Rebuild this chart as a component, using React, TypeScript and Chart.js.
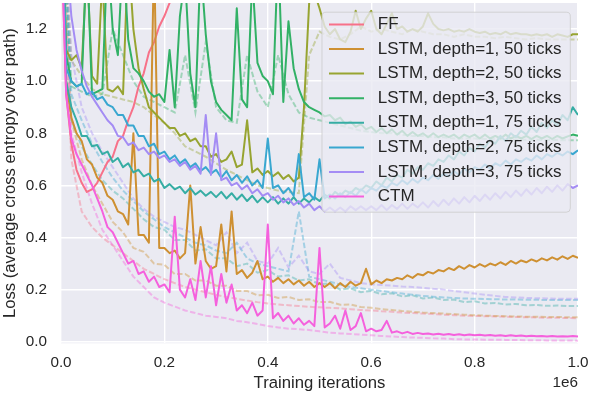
import React, { useEffect, useRef } from "react";
import { Chart, registerables } from "chart.js";

Chart.register(...registerables);

const FONT = "'Liberation Sans', Arial, Helvetica, sans-serif";
const TEXT = "#262626";

const SERIES = [
  "FF",
  "LSTM, depth=1, 50 ticks",
  "LSTM, depth=2, 50 ticks",
  "LSTM, depth=3, 50 ticks",
  "LSTM, depth=1, 75 ticks",
  "LSTM, depth=2, 75 ticks",
  "LSTM, depth=3, 75 ticks",
  "CTM",
];
const COLORS = ["#f77189", "#ce9032", "#97a431", "#32b166", "#36ada4", "#39a7d0", "#a48cf4", "#f561dd"];
const X_TICKS = [0, 200000, 400000, 600000, 800000, 1000000];
const Y_TICKS = [0, 0.2, 0.4, 0.6, 0.8, 1.0, 1.2];
const SOLID_STEP = 10000; // iterations between samples of the solid (test) curves
const DASHED_STEP = 20000; // iterations between samples of the dashed (train) curves

// ---- solid curves (one value every 10k iterations) ----
const FF_SOLID = [
  1.6, 0.95, 0.76, 0.66, 0.61, 0.575, 0.585, 0.61, 0.65, 0.69,
  0.71, 0.77, 0.79, 0.85, 0.9, 0.98, 1.03, 1.11, 1.15, 1.21,
  1.25, 1.3, 1.33, 1.42,
];
const L1_50_SOLID = [
  1.7, 1.0, 0.86, 0.8, 0.77, 0.7, 0.68, 0.63, 0.61, 0.56,
  0.545, 0.5, 0.49, 0.45, 0.8, 0.41, 0.41, 0.38, 1.5, 0.36,
  0.36, 0.34, 0.35, 0.32, 0.34, 0.6, 0.3, 0.44, 0.31, 0.28,
  0.29, 0.45, 0.27, 0.5, 0.26, 0.275, 0.245, 0.265, 0.31, 0.24,
  0.25, 0.23, 0.245, 0.225, 0.24, 0.22, 0.235, 0.215, 0.23, 0.21,
  0.225, 0.21, 0.225, 0.205, 0.225, 0.21, 0.23, 0.215, 0.225, 0.28,
  0.22, 0.235, 0.225, 0.24, 0.235, 0.245, 0.24, 0.255, 0.245, 0.26,
  0.255, 0.268, 0.262, 0.275, 0.27, 0.283, 0.275, 0.29, 0.28, 0.294,
  0.285, 0.298, 0.288, 0.3, 0.293, 0.305, 0.295, 0.31, 0.3, 0.312,
  0.305, 0.316, 0.308, 0.32, 0.312, 0.324, 0.315, 0.328, 0.318, 0.33,
  0.322,
];
const L2_50_SOLID = [
  1.8, 1.12, 1.08, 1.1, 1.05, 1.45, 1.02, 0.99, 1.4, 0.97,
  0.96, 0.98, 0.95, 1.5, 1.2, 1.05, 0.97, 0.9, 0.88, 0.86,
  0.84, 0.82, 0.82, 0.79, 0.8, 0.77, 0.78, 0.75, 0.75, 0.71,
  0.72, 0.69, 0.7, 0.73, 0.67, 0.68, 0.85, 0.65, 0.665, 0.64,
  0.655, 0.635, 0.65, 0.625, 0.64, 0.615, 0.63, 0.9, 1.3, 1.34,
  1.28, 1.21, 1.18, 1.2, 1.16, 1.15, 1.19, 1.27, 1.2, 1.24,
  1.27, 1.2, 1.18, 1.22, 1.26, 1.2, 1.21, 1.19, 1.2, 1.19,
  1.21, 1.26, 1.22, 1.2, 1.195, 1.2, 1.19, 1.195, 1.19, 1.2,
  1.19, 1.185, 1.19, 1.18, 1.185, 1.18, 1.19, 1.18, 1.185, 1.18,
  1.18, 1.175, 1.18, 1.175, 1.18, 1.17, 1.18, 1.175, 1.17, 1.18,
  1.18,
];
const L3_50_SOLID = [
  1.8, 1.1, 1.0, 0.98, 0.99, 1.5, 0.95, 0.96, 0.97, 1.5,
  1.2, 1.1, 1.5, 1.16, 1.05, 1.03, 1.0, 0.96, 0.94, 0.95,
  0.92, 1.12, 0.9, 1.25, 1.4, 1.03, 0.9, 1.45, 1.18, 1.0,
  0.92, 0.89, 0.87, 0.85, 1.28, 0.93, 0.9, 1.4, 1.07, 1.02,
  1.0, 0.95, 1.5, 0.92, 1.23, 1.05, 0.97, 0.92, 0.9, 0.89,
  0.88, 0.865, 0.87, 0.85, 0.86, 0.835, 0.845, 0.825, 0.835, 0.815,
  0.825, 0.805, 0.82, 0.8, 0.815, 0.795, 0.81, 0.79, 0.805, 0.79,
  0.8, 0.785, 0.8, 0.785, 0.795, 0.785, 0.795, 0.78, 0.795, 0.785,
  0.795, 0.78, 0.795, 0.78, 0.79, 0.78, 0.795, 0.78, 0.79, 0.78,
  0.79, 0.778, 0.79, 0.78, 0.79, 0.778, 0.79, 0.78, 0.788, 0.795,
  0.79,
];
const L1_75_SOLID = [
  1.8, 1.0, 0.9, 0.85, 0.79, 0.79, 0.75, 0.755, 0.72, 0.73,
  0.69, 0.705, 0.67, 0.685, 0.65, 0.66, 0.635, 0.645, 0.615, 0.625,
  0.59, 0.605, 0.585, 0.595, 0.57, 0.59, 0.565, 0.58, 0.56, 0.575,
  0.555, 0.575, 0.55, 0.57, 0.545, 0.565, 0.54, 0.56, 0.535, 0.555,
  0.535, 0.555, 0.53, 0.55, 0.53, 0.555, 0.53, 0.55, 0.535, 0.555,
  0.54, 0.565, 0.55, 0.575, 0.56, 0.58, 0.57, 0.59, 0.58, 0.6,
  0.59, 0.615, 0.6, 0.63, 0.615, 0.64, 0.63, 0.66, 0.645, 0.67,
  0.66, 0.685, 0.675, 0.7, 0.69, 0.715, 0.7, 0.73, 0.715, 0.745,
  0.73, 0.76, 0.745, 0.775, 0.76, 0.79, 0.77, 0.8, 0.785, 0.81,
  0.795, 0.825, 0.805, 0.84, 0.82, 0.85, 0.83, 0.87, 0.85, 0.9,
  0.87,
];
const L2_75_SOLID = [
  1.8, 1.05, 1.0, 0.98, 0.99, 0.95, 0.96, 0.93, 0.94, 0.91,
  0.9, 0.87, 0.87, 0.83, 0.83, 0.79, 0.79, 0.75, 0.76, 0.72,
  0.73, 0.7, 0.715, 0.685, 0.7, 0.67, 0.685, 0.655, 0.67, 0.645,
  0.66, 0.63, 0.655, 0.62, 0.64, 0.61, 0.635, 0.6, 0.62, 0.59,
  0.78, 0.59, 0.6, 0.57, 0.59, 0.56, 0.72, 0.555, 0.57, 0.545,
  0.7, 0.55, 0.565, 0.55, 0.57, 0.555, 0.575, 0.56, 0.585, 0.57,
  0.59, 0.58, 0.6, 0.59, 0.61, 0.6, 0.62, 0.605, 0.625, 0.61,
  0.63, 0.62, 0.64, 0.625, 0.645, 0.635, 0.655, 0.64, 0.665, 0.65,
  0.67, 0.66, 0.68, 0.665, 0.685, 0.675, 0.695, 0.68, 0.7, 0.69,
  0.705, 0.695, 0.715, 0.7, 0.72, 0.71, 0.725, 0.715, 0.73, 0.72,
  0.735,
];
const L3_75_SOLID = [
  1.8, 1.5, 1.25, 1.12, 1.04, 0.98, 0.94, 0.91, 0.88, 0.85,
  0.83, 0.79, 0.785, 0.755, 0.765, 0.735, 0.745, 0.72, 0.73, 0.705,
  0.715, 0.69, 0.7, 0.675, 0.69, 0.66, 0.675, 0.645, 0.87, 0.64,
  0.8, 0.62, 0.63, 0.6, 0.61, 0.585, 0.6, 0.57, 0.585, 0.56,
  0.57, 0.545, 0.56, 0.535, 0.55, 0.525, 0.54, 0.515, 0.53, 0.505,
  0.52, 0.5, 0.515, 0.5, 0.515, 0.5, 0.52, 0.505, 0.52, 0.505,
  0.52, 0.505, 0.525, 0.505, 0.525, 0.51, 0.53, 0.51, 0.53, 0.515,
  0.535, 0.515, 0.54, 0.52, 0.545, 0.525, 0.55, 0.53, 0.555, 0.535,
  0.56, 0.54, 0.565, 0.545, 0.57, 0.55, 0.575, 0.555, 0.58, 0.56,
  0.585, 0.565, 0.59, 0.57, 0.595, 0.575, 0.6, 0.58, 0.605, 0.59,
  0.6,
];
const CTM_SOLID = [
  1.6, 0.95, 0.78, 0.72, 0.68, 0.64, 0.6, 0.55, 0.5, 0.44,
  0.42, 0.38, 0.34, 0.3, 0.31, 0.26, 0.27, 0.23, 0.25, 0.21,
  0.22, 0.19, 0.48, 0.2, 0.17, 0.24, 0.16, 0.31, 0.17, 0.29,
  0.14, 0.26, 0.15, 0.22, 0.12, 0.14, 0.11, 0.15, 0.1, 0.12,
  0.45, 0.09, 0.11, 0.08, 0.1, 0.07, 0.09, 0.065, 0.08, 0.06,
  0.36, 0.055, 0.07, 0.1, 0.05, 0.12, 0.045, 0.06, 0.11, 0.04,
  0.05, 0.04, 0.045, 0.08, 0.035, 0.04, 0.032, 0.038, 0.03, 0.034,
  0.03, 0.032, 0.028, 0.031, 0.027, 0.03, 0.026, 0.029, 0.025, 0.028,
  0.025, 0.027, 0.024, 0.026, 0.023, 0.025, 0.022, 0.025, 0.022, 0.024,
  0.021, 0.023, 0.021, 0.022, 0.02, 0.022, 0.02, 0.021, 0.02, 0.022,
  0.02,
];

// ---- dashed curves (one value every 20k iterations) ----
const FF_DASHED = [
  1.6, 0.7, 0.5, 0.44, 0.4, 0.37, 0.34, 0.31, 0.28, 0.26,
  0.24, 0.225, 0.21, 0.2, 0.19, 0.18, 0.172, 0.165, 0.158, 0.152,
  0.147, 0.143, 0.14, 0.137, 0.134, 0.132, 0.13, 0.128, 0.125, 0.122,
  0.12, 0.117, 0.115, 0.112, 0.11, 0.108, 0.106, 0.104, 0.102, 0.1,
  0.099, 0.098, 0.097, 0.096, 0.095, 0.094, 0.093, 0.092, 0.092, 0.091,
  0.09,
];
const L1_50_DASHED = [
  1.7, 0.85, 0.7, 0.6, 0.53, 0.46, 0.42, 0.36, 0.345, 0.3,
  0.295, 0.26, 0.26, 0.235, 0.235, 0.215, 0.215, 0.195, 0.195, 0.178,
  0.18, 0.168, 0.172, 0.16, 0.163, 0.152, 0.153, 0.142, 0.143, 0.133,
  0.13, 0.125, 0.122, 0.118, 0.115, 0.112, 0.11, 0.108, 0.106, 0.104,
  0.102, 0.1, 0.099, 0.098, 0.097, 0.096, 0.096, 0.095, 0.095, 0.094,
  0.094,
];
const L2_50_DASHED = [
  1.8, 1.08, 1.02, 0.97, 0.95, 0.94, 0.93, 0.92, 0.9, 0.87,
  0.84, 0.8, 0.75, 0.73, 0.71, 0.685, 0.66, 0.64, 0.62, 0.6,
  0.59, 0.58, 0.575, 0.57, 1.1, 1.19, 1.17, 1.16, 1.18, 1.21,
  1.19, 1.2, 1.19, 1.18, 1.2, 1.19, 1.18, 1.18, 1.17, 1.18,
  1.17, 1.17, 1.165, 1.17, 1.165, 1.16, 1.165, 1.16, 1.16, 1.16,
  1.16,
];
const L3_50_DASHED = [
  1.8, 0.98, 0.96, 0.94, 0.95, 1.2, 1.1, 1.0, 0.94, 0.92,
  0.9, 0.88, 1.1, 0.88, 1.15, 0.9, 0.85, 0.84, 1.1, 0.96,
  0.9, 1.1, 0.95, 0.88, 0.86, 0.85, 0.84, 0.83, 0.82, 0.81,
  0.805, 0.8, 0.8, 0.795, 0.79, 0.79, 0.785, 0.785, 0.78, 0.78,
  0.78, 0.778, 0.778, 0.776, 0.776, 0.775, 0.775, 0.774, 0.774, 0.773,
  0.773,
];
const L1_75_DASHED = [
  1.8, 0.85, 0.75, 0.68, 0.62, 0.58, 0.55, 0.51, 0.47, 0.44,
  0.43, 0.39, 0.39, 0.35, 0.355, 0.32, 0.32, 0.29, 0.3, 0.265,
  0.275, 0.25, 0.255, 0.235, 0.24, 0.22, 0.225, 0.2, 0.205, 0.19,
  0.195, 0.182, 0.186, 0.174, 0.178, 0.166, 0.17, 0.16, 0.162, 0.152,
  0.155, 0.147, 0.149, 0.143, 0.145, 0.14, 0.141, 0.138, 0.139, 0.137,
  0.137,
];
const L2_75_DASHED = [
  1.8, 0.95, 0.85, 0.76, 0.69, 0.63, 0.58, 0.54, 0.5, 0.47,
  0.44, 0.42, 0.4, 0.38, 0.37, 0.35, 0.34, 0.38, 0.32, 0.3,
  0.29, 0.28, 0.27, 0.5, 0.25, 0.24, 0.23, 0.22, 0.21, 0.205,
  0.2, 0.195, 0.19, 0.185, 0.18, 0.176, 0.173, 0.17, 0.168, 0.166,
  0.165, 0.164, 0.163, 0.162, 0.162, 0.161, 0.161, 0.16, 0.16, 0.16,
  0.16,
];
const L3_75_DASHED = [
  1.8, 1.1, 0.9, 0.8, 0.73, 0.67, 0.61, 0.55, 0.51, 0.48,
  0.46, 0.44, 0.43, 0.41, 0.39, 0.37, 0.42, 0.34, 0.38, 0.31,
  0.3, 0.36, 0.285, 0.33, 0.27, 0.26, 0.3, 0.245, 0.235, 0.225,
  0.22, 0.218, 0.215, 0.212, 0.21, 0.207, 0.203, 0.2, 0.195, 0.19,
  0.185, 0.18, 0.176, 0.172, 0.17, 0.168, 0.167, 0.166, 0.165, 0.165,
  0.165,
];
const CTM_DASHED = [
  1.6, 0.8, 0.65, 0.53, 0.43, 0.37, 0.31, 0.25, 0.21, 0.17,
  0.15, 0.135, 0.12, 0.11, 0.1, 0.095, 0.09, 0.08, 0.075, 0.068,
  0.06, 0.055, 0.05, 0.048, 0.045, 0.04, 0.035, 0.032, 0.03, 0.027,
  0.025, 0.022, 0.02, 0.018, 0.016, 0.015, 0.013, 0.012, 0.01, 0.009,
  0.009, 0.008, 0.008, 0.007, 0.007, 0.006, 0.006, 0.005, 0.005, 0.005,
  0.004,
];

const SOLID = [FF_SOLID, L1_50_SOLID, L2_50_SOLID, L3_50_SOLID, L1_75_SOLID, L2_75_SOLID, L3_75_SOLID, CTM_SOLID];
const DASHED = [FF_DASHED, L1_50_DASHED, L2_50_DASHED, L3_50_DASHED, L1_75_DASHED, L2_75_DASHED, L3_75_DASHED, CTM_DASHED];

function rgba(hex: string, a: number) {
  const n = parseInt(hex.slice(1), 16);
  return `rgba(${(n >> 16) & 255},${(n >> 8) & 255},${n & 255},${a})`;
}

function points(ys: number[], step: number) {
  return ys.map((y, i) => ({ x: i * step, y }));
}

const backgroundPlugin = {
  id: "bgPlot",
  beforeDraw(chart: any) {
    const { ctx, chartArea: a } = chart;
    ctx.save();
    ctx.fillStyle = "#ffffff";
    ctx.fillRect(0, 0, chart.width, chart.height);
    ctx.fillStyle = "#eaeaf2";
    ctx.fillRect(a.left, a.top, a.right - a.left, a.bottom - a.top);
    ctx.restore();
  },
};

const legendPlugin = {
  id: "innerLegend",
  afterDatasetsDraw(chart: any) {
    const { ctx, chartArea: a } = chart;
    ctx.save();
    const bx = a.right - 256.5;
    const by = a.top + 8.7;
    const bw = 248.3;
    const bh = 200;
    ctx.beginPath();
    ctx.roundRect(bx + 0.5, by + 0.5, bw, bh, 4);
    ctx.fillStyle = "rgba(234,234,242,0.8)";
    ctx.fill();
    ctx.strokeStyle = "rgba(204,204,204,0.8)";
    ctx.lineWidth = 1;
    ctx.stroke();
    ctx.font = `17px ${FONT}`;
    ctx.textBaseline = "middle";
    ctx.textAlign = "left";
    SERIES.forEach((name, i) => {
      const y = by + 12.7 + i * 24.6;
      ctx.strokeStyle = COLORS[i];
      ctx.lineWidth = 2;
      ctx.setLineDash([]);
      ctx.beginPath();
      ctx.moveTo(bx + 7.5, y);
      ctx.lineTo(bx + 42.5, y);
      ctx.stroke();
      ctx.fillStyle = TEXT;
      ctx.fillText(name, bx + 56.3, y);
    });
    ctx.font = `15.28px ${FONT}`;
    ctx.textAlign = "right";
    ctx.fillStyle = TEXT;
    ctx.fillText("1e6", a.right, a.bottom + 39.2);
    ctx.restore();
  },
};

export default function App() {
  const ref = useRef<HTMLCanvasElement>(null);

  useEffect(() => {
    const canvas = ref.current;
    if (!canvas) return;
    const datasets: any[] = [];
    let k = 0;
    DASHED.forEach((ys, s) => {
      datasets.push({
        label: SERIES[s] + " train",
        data: points(ys, DASHED_STEP),
        borderColor: rgba(COLORS[s], 0.4),
        backgroundColor: rgba(COLORS[s], 0.4),
        borderWidth: 2,
        borderDash: [5.5, 2.4],
        pointRadius: 0,
        tension: 0,
        fill: false,
        clip: 0,
        order: -k++,
      });
    });
    SOLID.forEach((ys, s) => {
      datasets.push({
        label: SERIES[s],
        data: points(ys, SOLID_STEP),
        borderColor: COLORS[s],
        backgroundColor: COLORS[s],
        borderWidth: 2,
        borderJoinStyle: "round",
        pointRadius: 0,
        tension: 0,
        fill: false,
        clip: 0,
        order: -k++,
      });
    });

    const chart = new Chart(canvas, {
      type: "line",
      data: { datasets },
      options: {
        responsive: false,
        animation: false,
        devicePixelRatio: 1,
        events: [],
        layout: { padding: { top: 3, right: 16, bottom: 0, left: 0 }, autoPadding: false },
        plugins: { legend: { display: false }, tooltip: { enabled: false } },
        scales: {
          x: {
            type: "linear",
            min: 0,
            max: 1000000,
            afterBuildTicks: (sc: any) => {
              sc.ticks = X_TICKS.map((v) => ({ value: v }));
            },
            afterFit: (sc: any) => {
              sc.height = 52.7;
              sc.paddingLeft = 0;
              sc.paddingRight = 0;
            },
            grid: { color: "#ffffff", lineWidth: 1.4, drawTicks: false },
            border: { display: false },
            ticks: {
              padding: 10,
              color: TEXT,
              font: { family: FONT, size: 15.28 },
              maxRotation: 0,
              autoSkip: false,
              callback: (v: any) => (Number(v) / 1e6).toFixed(1),
            },
            title: {
              display: true,
              text: "Training iterations",
              color: TEXT,
              font: { family: FONT, size: 16.67 },
              padding: { top: 0, bottom: 2.5 },
            },
          },
          y: {
            type: "linear",
            min: -0.006,
            max: 1.3,
            afterBuildTicks: (sc: any) => {
              sc.ticks = Y_TICKS.map((v) => ({ value: v }));
            },
            afterFit: (sc: any) => {
              sc.width = 61;
              sc.paddingTop = 0;
              sc.paddingBottom = 0;
            },
            grid: { color: "#ffffff", lineWidth: 1.4, drawTicks: false },
            border: { display: false },
            ticks: {
              padding: 14,
              color: TEXT,
              font: { family: FONT, size: 15.28 },
              autoSkip: false,
              callback: (v: any) => Number(v).toFixed(1),
            },
            title: {
              display: true,
              text: "Loss (average cross entropy over path)",
              color: TEXT,
              font: { family: FONT, size: 16.67 },
              padding: { top: 0, bottom: 0 },
            },
          },
        },
      },
      plugins: [backgroundPlugin, legendPlugin],
    } as any);

    return () => chart.destroy();
  }, []);

  return (
    <div style={{ position: "fixed", left: 0, top: 0, width: 594, height: 396, background: "#fff" }}>
      <canvas ref={ref} width={594} height={396} style={{ display: "block" }} />
    </div>
  );
}
